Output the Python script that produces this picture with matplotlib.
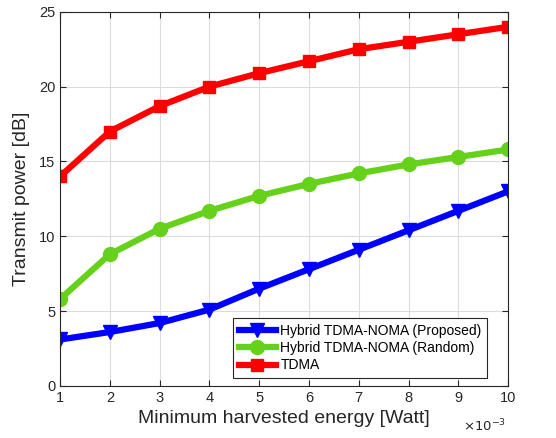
import numpy as np
import matplotlib.pyplot as plt

plt.rcParams['font.family'] = ['Liberation Sans', 'DejaVu Sans']

x = [1, 2, 3, 4, 5, 6, 7, 8, 9, 10]
proposed = [3.1, 3.6, 4.2, 5.1, 6.5, 7.8, 9.1, 10.4, 11.7, 13.0]
random_sel = [5.8, 8.8, 10.5, 11.7, 12.7, 13.5, 14.2, 14.8, 15.3, 15.8]
tdma = [14.0, 17.0, 18.7, 20.0, 20.9, 21.7, 22.5, 23.0, 23.5, 24.0]
labels = ['Hybrid TDMA-NOMA (Proposed)', 'Hybrid TDMA-NOMA (Random)', 'TDMA']

fig = plt.figure(figsize=(5.56, 4.38), dpi=100)
ax = fig.add_axes([0.108, 0.119, 0.806, 0.854])

ax.plot(x, proposed, color='#0000ff', lw=4.5, marker='v', ms=10.5, label=labels[0])
ax.plot(x, random_sel, color='#66d11a', lw=4.5, marker='o', ms=10, label=labels[1])
ax.plot(x, tdma, color='#ff0000', lw=4.5, marker='s', ms=9, label=labels[2])

ax.set_xlim(1, 10)
ax.set_ylim(0, 25)
ax.set_xticks(x)
ax.set_yticks([0, 5, 10, 15, 20, 25])
ax.grid(True, color='#dcdcdc', lw=0.8)
ax.set_axisbelow(True)
ax.tick_params(direction='in', top=True, right=True, labelsize=10.5,
               colors='#262626', length=4)
for s in ax.spines.values():
    s.set_color('#262626')
    s.set_linewidth(0.8)

ax.set_xlabel('Minimum harvested energy [Watt]', fontsize=14, color='#262626', labelpad=4)
ax.set_ylabel('Transmit power [dB]', fontsize=14, color='#262626', labelpad=6)
ax.text(0.995, -0.085, r'$\times10^{-3}$', transform=ax.transAxes, ha='right', va='top',
        fontsize=9.5, color='#262626')

leg = ax.legend(loc='lower right', bbox_to_anchor=(0.953, 0.021), borderaxespad=0,
                fontsize=10, handlelength=2.7, borderpad=0.4, labelspacing=0.25,
                handletextpad=0.3, fancybox=False, framealpha=1, edgecolor='#262626')
leg.get_frame().set_linewidth(0.8)

fig.savefig('out.png', dpi=100)
